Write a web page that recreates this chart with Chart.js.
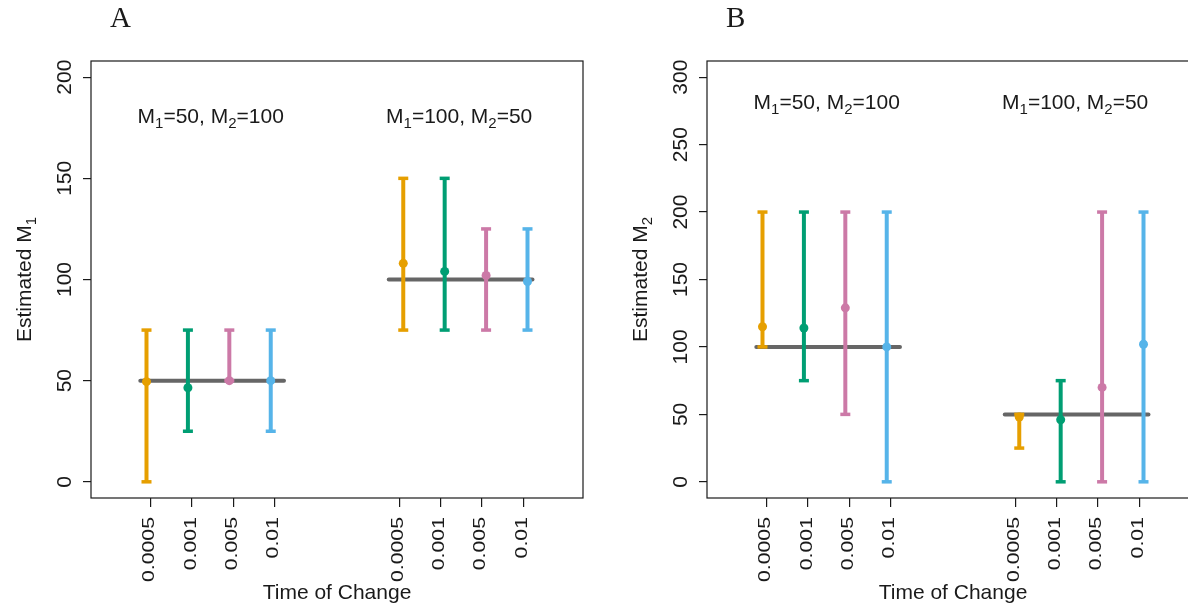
<!DOCTYPE html>
<html>
<head>
<meta charset="utf-8">
<script src="https://cdn.jsdelivr.net/npm/chart.js@4.4.1/dist/chart.umd.min.js"></script>
<style>
  html, body { margin: 0; padding: 0; background: #fff; overflow: hidden; width: 1188px; height: 607px; }
  .panel { position: absolute; top: 0; width: 600px; height: 607px; }
  #panelA { left: 0; }
  #panelB { left: 616px; }
</style>
</head>
<body>
<div class="panel" id="panelA"><canvas id="chartA" width="600" height="607"></canvas></div>
<div class="panel" id="panelB"><canvas id="chartB" width="600" height="607"></canvas></div>
<script>
// 变化时间（x 轴类别），两组情景各重复一次
const rates = ['0.0005', '0.001', '0.005', '0.01'];
// 情景：真实的 M1 / M2
const trueM1 = [50, 100];
const trueM2 = [100, 50];

// 图 A：M1 的估计值与区间（情景1 四个，情景2 四个）
const m1Est  = [49.5, 46.5, 50, 50, 108, 104, 102, 99];
const m1Low  = [0, 25, 50, 25, 75, 75, 75, 75];
const m1High = [75, 75, 75, 75, 150, 150, 125, 125];

// 图 B：M2 的估计值与区间
const m2Est  = [115, 114, 129, 100, 48, 46, 70, 102];
const m2Low  = [100, 75, 50, 0, 25, 0, 0, 0];
const m2High = [200, 200, 200, 200, 50, 75, 200, 200];

// y 轴刻度
const m1Ticks = [0, 50, 100, 150, 200];
const m2Ticks = [0, 50, 100, 150, 200, 250, 300];

const colors = ['#E69F00', '#009E73', '#CC79A7', '#56B4E9'];
const INK = '#1a1a1a';
const SANS = '"Liberation Sans", Arial, sans-serif';

// x 位置：第 i 个变化率、第 g 组情景
function tickPos(g, i) { return 1 + i + 6 * g; }
function barPos(g, i) { return tickPos(g, i) + (g === 0 ? -0.1 : 0.1); }

// 带下标的文字
function scenarioLabel(g) {
  return [['M'], ['1', true], ['=' + trueM1[g] + ', M'], ['2', true], ['=' + trueM2[g]]];
}

function drawRich(ctx, parts, x, y, size) {
  const subSize = Math.round(size * 0.7);
  let w = 0;
  parts.forEach(p => {
    ctx.font = (p[1] ? subSize : size) + 'px ' + SANS;
    w += ctx.measureText(p[0]).width;
  });
  let cx = x - w / 2;
  ctx.textAlign = 'left';
  ctx.textBaseline = 'alphabetic';
  parts.forEach(p => {
    ctx.font = (p[1] ? subSize : size) + 'px ' + SANS;
    ctx.fillText(p[0], cx, y + (p[1] ? size * 0.24 : 0));
    cx += ctx.measureText(p[0]).width;
  });
}

// 边框、刻度文字、标题等
const panelText = {
  id: 'panelText',
  afterDraw(chart, args, o) {
    const { ctx, chartArea: a, scales: { x, y } } = chart;
    ctx.save();
    ctx.strokeStyle = INK;
    ctx.lineWidth = 1.2;
    ctx.strokeRect(a.left, a.top, a.right - a.left, a.bottom - a.top);
    ctx.fillStyle = INK;

    // y 刻度文字（竖排）
    ctx.font = '21px ' + SANS;
    ctx.textAlign = 'center';
    ctx.textBaseline = 'alphabetic';
    o.yTicks.forEach(v => {
      ctx.save();
      ctx.translate(a.left - 20, y.getPixelForValue(v));
      ctx.rotate(-Math.PI / 2);
      ctx.fillText(String(v), 0, 0);
      ctx.restore();
    });

    // x 刻度文字（竖排，稍微拉长）
    ctx.font = '16.5px ' + SANS;
    ctx.textAlign = 'right';
    x.ticks.forEach((t, k) => {
      ctx.save();
      ctx.translate(x.getPixelForValue(t.value) + 3.5, a.bottom + 19);
      ctx.rotate(-Math.PI / 2);
      ctx.scale(1.29, 1);
      ctx.fillText(rates[k % rates.length], 0, 0);
      ctx.restore();
    });

    // x 轴标题
    ctx.font = '21px ' + SANS;
    ctx.textAlign = 'center';
    ctx.fillText('Time of Change', (a.left + a.right) / 2, 599);

    // y 轴标题
    ctx.save();
    ctx.translate(31, (a.top + a.bottom) / 2);
    ctx.rotate(-Math.PI / 2);
    drawRich(ctx, [['Estimated M'], [o.sub, true]], 0, 0, 21);
    ctx.restore();

    // 情景说明
    [0, 1].forEach(g => {
      drawRich(ctx, scenarioLabel(g), x.getPixelForValue(o.labelX[g]), y.getPixelForValue(o.labelY) + 7.5, 21);
    });

    // 面板字母
    ctx.font = '29px "Liberation Serif", "Times New Roman", serif';
    ctx.textAlign = 'left';
    ctx.fillText(o.letter, 110, 27);
    ctx.restore();
  }
};

function makePanel(canvasId, est, low, high, truth, yTicks, yMin, yMax, opts) {
  const datasets = [];
  // 估计点
  datasets.push({
    type: 'scatter',
    order: 1,
    data: est.map((v, k) => ({ x: barPos(Math.floor(k / 4), k % 4), y: v })),
    pointRadius: 4.5,
    pointBorderWidth: 0,
    pointBackgroundColor: est.map((v, k) => colors[k % 4])
  });
  // 误差线（带端帽）
  est.forEach((v, k) => {
    const g = Math.floor(k / 4), i = k % 4;
    datasets.push({
      type: 'line',
      order: 2,
      data: [{ x: barPos(g, i), y: low[k] }, { x: barPos(g, i), y: high[k] }],
      borderColor: colors[i],
      borderWidth: 4,
      pointStyle: 'line',
      pointRadius: 5,
      pointBorderWidth: 3.5,
      pointBorderColor: colors[i]
    });
  });
  // 真实值横线
  truth.forEach((v, g) => {
    datasets.push({
      type: 'line',
      order: 3,
      data: [{ x: 0.75 + 6 * g, y: v }, { x: 4.22 + 6 * g, y: v }],
      borderColor: '#666666',
      borderWidth: 4,
      borderCapStyle: 'round',
      pointRadius: 0
    });
  });

  return new Chart(document.getElementById(canvasId), {
    type: 'scatter',
    data: { datasets },
    options: {
      responsive: false,
      animation: false,
      layout: { padding: { top: 61, right: 17, left: 0, bottom: 0 } },
      plugins: {
        legend: { display: false },
        tooltip: { enabled: false },
        panelText: opts
      },
      scales: {
        x: {
          type: 'linear',
          min: -0.44,
          max: 11.44,
          afterBuildTicks: s => { s.ticks = [0, 1].flatMap(g => rates.map((r, i) => ({ value: tickPos(g, i) }))); },
          afterFit: s => { s.height = 109; },
          ticks: { display: false },
          border: { display: false },
          grid: { drawOnChartArea: false, tickLength: 9, color: INK, lineWidth: 1.2 }
        },
        y: {
          min: yMin,
          max: yMax,
          afterBuildTicks: s => { s.ticks = yTicks.map(v => ({ value: v })); },
          afterFit: s => { s.width = 91; },
          ticks: { display: false },
          border: { display: false },
          grid: { drawOnChartArea: false, tickLength: 8, color: INK, lineWidth: 1.2 }
        }
      }
    },
    plugins: [panelText]
  });
}

makePanel('chartA', m1Est, m1Low, m1High, trueM1, m1Ticks, -8, 208,
  { yTicks: m1Ticks, sub: '1', letter: 'A', labelX: [2.45, 8.45], labelY: 181 });
makePanel('chartB', m2Est, m2Low, m2High, trueM2, m2Ticks, -12, 312,
  { yTicks: m2Ticks, sub: '2', letter: 'B', labelX: [2.45, 8.45], labelY: 282 });
</script>
</body>
</html>
